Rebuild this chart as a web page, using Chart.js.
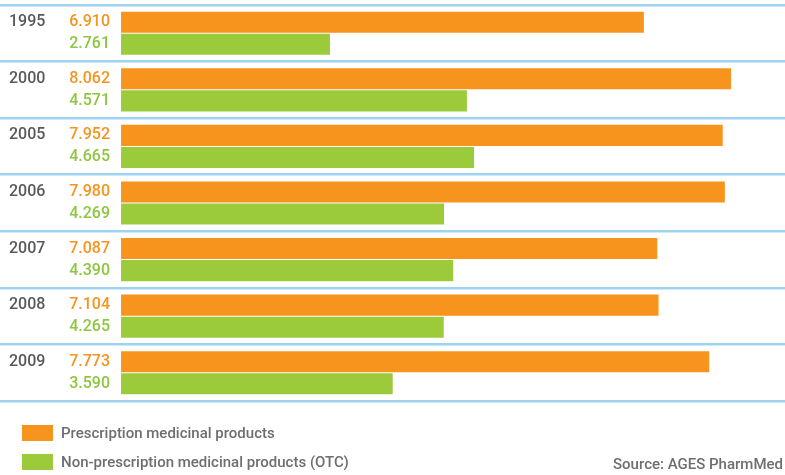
<!DOCTYPE html>
<html>
<head>
<meta charset="utf-8">
<script src="https://cdn.jsdelivr.net/npm/chart.js@4/dist/chart.umd.min.js"></script>
<style>
    html, body { margin: 0; padding: 0; background: #fff; }
    .wrap { position: relative; width: 785px; height: 475px; font-family: Roboto, 'DejaVu Sans', sans-serif; }
    canvas { position: absolute; left: 0; top: 0; }
    .legend { position: absolute; left: 22px; top: 425px; color: #6d6e71; font-size: 15px; font-weight: 500; }
    .legend div { height: 16px; line-height: 16px; margin-bottom: 13px; white-space: nowrap; }
    .legend span { display: inline-block; width: 31px; height: 16px; vertical-align: top; margin-right: 8px; }
    .source { position: absolute; right: 2px; top: 455px; color: #6d6e71; font-size: 15px; font-weight: 500; line-height: 18px; }
</style>
</head>
<body>
<div class="wrap">
    <canvas id="rxChart" width="785" height="475"></canvas>
    <div class="legend">
        <div><span style="background:#f7941e"></span>Prescription medicinal products</div>
        <div><span style="background:#9bcb3b"></span>Non-prescription medicinal products (OTC)</div>
    </div>
    <div class="source">Source: AGES PharmMed</div>
</div>
<script>
    const years = ['1995', '2000', '2005', '2006', '2007', '2008', '2009'];
    const prescription = [6910, 8062, 7952, 7980, 7087, 7104, 7773];
    const otc = [2761, 4571, 4665, 4269, 4390, 4265, 3590];

    const orange = '#f7941e';
    const green = '#9bcb3b';

    // 6910 -> "6.910"
    const fmt = (v) => String(v).replace(/\B(?=(\d{3})+(?!\d))/g, '.');

    // Jahreszahlen und Werte links neben den Balken
    const sideLabels = {
        id: 'sideLabels',
        afterDatasetsDraw(chart) {
            const c = chart.ctx;
            const metaRx = chart.getDatasetMeta(0);
            const metaOtc = chart.getDatasetMeta(1);
            c.save();
            c.font = '500 16px Roboto, "DejaVu Sans", sans-serif';
            c.textBaseline = 'middle';
            years.forEach((y, i) => {
                const yRx = metaRx.data[i].y;
                const yOtc = metaOtc.data[i].y;
                c.textAlign = 'left';
                c.fillStyle = '#58595b';
                c.fillText(y, 9, yRx);
                c.textAlign = 'right';
                c.fillStyle = orange;
                c.fillText(fmt(prescription[i]), 110, yRx);
                c.fillStyle = '#8dc63f';
                c.fillText(fmt(otc[i]), 110, yOtc);
            });
            c.restore();
        }
    };

    new Chart(document.getElementById('rxChart'), {
        type: 'bar',
        data: {
            labels: years,
            datasets: [
                {
                    label: 'Prescription medicinal products',
                    data: prescription,
                    backgroundColor: orange,
                    categoryPercentage: 0.78,
                    barPercentage: 0.955
                },
                {
                    label: 'Non-prescription medicinal products (OTC)',
                    data: otc,
                    backgroundColor: green,
                    categoryPercentage: 0.78,
                    barPercentage: 0.955
                }
            ]
        },
        options: {
            indexAxis: 'y',
            responsive: false,
            animation: false,
            layout: { padding: { left: 0, right: 0, top: 5, bottom: 74 } },
            plugins: {
                legend: { display: false },
                tooltip: { enabled: false }
            },
            scales: {
                x: { display: false, min: -1600, max: 8775 },
                y: {
                    offset: true,
                    ticks: { display: false },
                    border: { display: false },
                    grid: { offset: true, drawTicks: false, color: '#9dd3ef', lineWidth: 2.5 }
                }
            }
        },
        plugins: [sideLabels]
    });
</script>
</body>
</html>
